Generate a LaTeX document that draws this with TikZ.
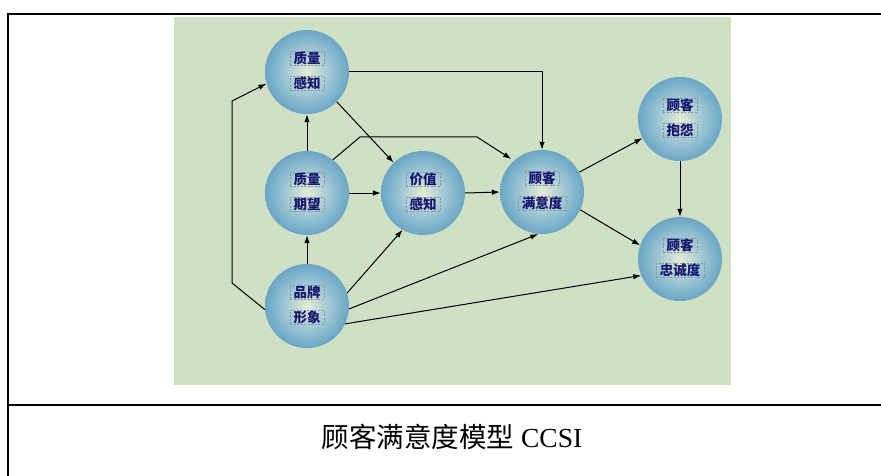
\documentclass[tikz,border=0pt]{standalone}
\usepackage{fontspec}
\setmainfont{Liberation Serif}
\newfontfamily\cjk{Noto Sans CJK SC}
\usetikzlibrary{arrows.meta}
\definecolor{panel}{RGB}{207,224,196}
\definecolor{ballin}{RGB}{230,236,212}
\definecolor{ballmid}{RGB}{160,200,214}
\definecolor{ballout}{RGB}{106,166,197}
\definecolor{navy}{RGB}{22,22,112}
\pgfdeclareradialshading{ball}{\pgfpoint{0bp}{0bp}}{color(0bp)=(ballin); color(13bp)=(ballmid); color(25bp)=(ballout); color(50bp)=(ballout)}
\begin{document}
\begin{tikzpicture}[x=1pt,y=-1pt,
  ballnode/.style={circle, minimum size=84pt, inner sep=0pt, shading=ball},
  lbl/.style={draw=gray!85, dash pattern=on 2pt off 1.5pt, line width=0.4pt,
    inner xsep=3.5pt, inner ysep=0.6pt, font=\cjk\bfseries\fontsize{13.5}{14}\selectfont, text=navy},
  conn/.style={line width=1pt, -{Latex[length=8pt,width=5.5pt]}},
  rule/.style={line width=1.2pt}]
\useasboundingbox (0,0) rectangle (881,476);
% table
\draw[rule] (7,14) -- (881,14);
\draw[rule] (8,14) -- (8,476);
\draw[rule] (8,405) -- (881,405);
% panel
\fill[panel] (174,17) rectangle (731,385);
% balls
\node[ballnode] (A) at (307,72) {};
\node[ballnode] (B) at (307,193) {};
\node[ballnode] (C) at (423,193) {};
\node[ballnode] (D) at (542,192) {};
\node[ballnode] (E) at (680,119) {};
\node[ballnode] (F) at (680,259) {};
\node[ballnode] (G) at (307,306) {};
% labels
\node[lbl] (A1) at (307,58) {质量};
\node[lbl] (A2) at (307,83) {感知};
\node[lbl] (B1) at (307,179) {质量};
\node[lbl] (B2) at (307,204) {期望};
\node[lbl] (C1) at (423,179) {价值};
\node[lbl] (C2) at (423,204) {感知};
\node[lbl] (D1) at (542,178) {顾客};
\node[lbl] (D2) at (542,203) {满意度};
\node[lbl] (E1) at (680,105) {顾客};
\node[lbl] (E2) at (680,130) {抱怨};
\node[lbl] (F1) at (680,245) {顾客};
\node[lbl] (F2) at (680,270) {忠诚度};
\node[lbl] (G1) at (307,292) {品牌};
\node[lbl] (G2) at (307,317) {形象};
% connectors
\draw[conn] (G.185) -- (232,283) -- (232,101) -- (A.196);
\draw[conn] (B.north) -- (A.south);
\draw[conn] (G.north) -- (B.south);
\draw[conn] (A.east) -- (542,72) -- (D.north);
\draw[conn] (A.-45) -- (C.134);
\draw[conn, shorten >=3pt] (B.52) -- (360,137) -- (477,137) -- (D.132);
\draw[conn] (B.east) -- (C.west);
\draw[conn] (C.east) -- (D.west);
\draw[conn] (G.18) -- (C.241);
\draw[conn] (G.-4) -- (D.265);
\draw[conn] (G.-25) -- (F.203);
\draw[conn] (D.28) -- (E.207);
\draw[conn] (D.-25) -- (F.161);
\draw[conn] (E.south) -- (F.north);
% caption
\node[font=\fontsize{27.5}{32}\selectfont] (cap) at (452,437) {{\cjk 顾客满意度模型} CCSI};
\end{tikzpicture}
\end{document}
